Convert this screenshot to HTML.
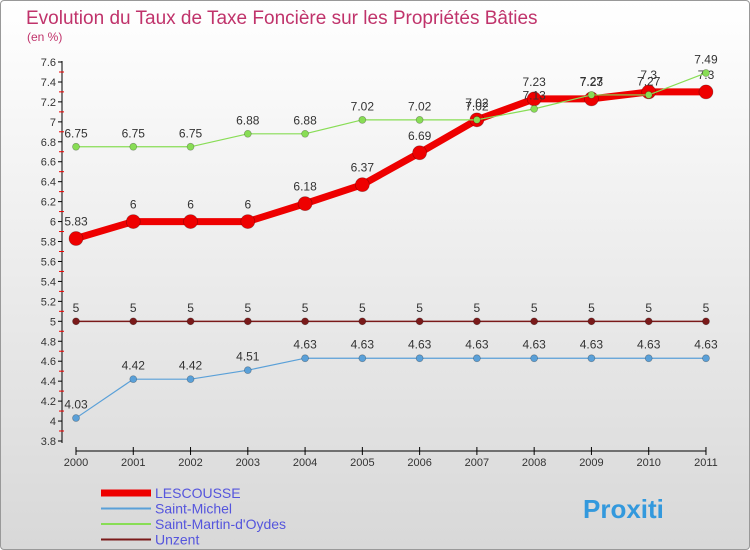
<!DOCTYPE html>
<html><head><meta charset="utf-8"><style>
body{margin:0}
#c{width:750px;height:550px;position:relative;font-family:"Liberation Sans",sans-serif;background:linear-gradient(#ffffff,#d8d8d8);border:1px solid #999;box-sizing:border-box;border-radius:4px;overflow:hidden}
text{font-family:"Liberation Sans",sans-serif}
</style></head><body>
<div id="c">
<svg id="s" width="750" height="550">
<text x="25" y="23" font-size="19" fill="#c0336b">Evolution du Taux de Taxe Foncière sur les Propriétés Bâties</text>
<text x="26" y="40" font-size="12" fill="#c0336b">(en %)</text>
</svg>
</div>
<script>
const years=["2000","2001","2002","2003","2004","2005","2006","2007","2008","2009","2010","2011"];
const lescousse=[5.83,6,6,6,6.18,6.37,6.69,7.02,7.23,7.23,7.3,7.3];
const saintMichel=[4.03,4.42,4.42,4.51,4.63,4.63,4.63,4.63,4.63,4.63,4.63,4.63];
const saintMartin=[6.75,6.75,6.75,6.88,6.88,7.02,7.02,7.02,7.13,7.27,7.27,7.49];
const unzent=[5,5,5,5,5,5,5,5,5,5,5,5];
const yTicks=["3.8","4","4.2","4.4","4.6","4.8","5","5.2","5.4","5.6","5.8","6","6.2","6.4","6.6","6.8","7","7.2","7.4","7.6"];
const NS="http://www.w3.org/2000/svg",s=document.getElementById('s');
const X=i=>75+i*57.27, Y=v=>440-(v-3.8)*(379/3.8);
function mk(t,a,p){const e=document.createElementNS(NS,t);for(const k in a)e.setAttribute(k,a[k]);(p||s).appendChild(e);return e;}
let ax=mk('line',{x1:61,y1:60,x2:61,y2:442,stroke:'#000'});


yTicks.forEach((t,k)=>{const v=+t,y=Y(v);
 mk('line',{x1:57,y1:y,x2:61,y2:y,stroke:'#000'});
 if(k<yTicks.length-1) mk('line',{x1:58,y1:y-10,x2:63,y2:y-10,stroke:'#e00'});
 const tx=mk('text',{x:55,y:y+4,'font-size':11,fill:'#333','text-anchor':'end'});tx.textContent=t;
 
 
});
let xa=mk('line',{x1:75,y1:450,x2:705,y2:450,stroke:'#000'});


years.forEach((y,i)=>{mk('line',{x1:X(i),y1:446,x2:X(i),y2:454,stroke:'#000'});
 const tx=mk('text',{x:X(i),y:465,'font-size':11,fill:'#333','text-anchor':'middle'});tx.textContent=y;
 
 
});
function series(d,col,w,r,name){
 const g=mk('g',{});
 
 
 mk('polyline',{points:d.map((v,i)=>X(i)+','+Y(v)).join(' '),fill:'none',stroke:col,'stroke-width':w},g);
 d.forEach((v,i)=>{const c=mk('circle',{cx:X(i),cy:Y(v),r:r,fill:col,stroke:'rgba(0,0,0,0.3)','stroke-width':0.7},g);
  
  
  const t=mk('text',{x:X(i),y:Y(v)-r-6,'font-size':12,fill:'#333','text-anchor':'middle'},g);t.textContent=String(v);
  
  });
}
series(unzent,'#7a1a1a',1.5,3.5,'unzent-line');
series(saintMichel,'#5aa0d8',1.2,3.5,'saint-michel-line');
series(lescousse,'#ee0000',7,7,'lescousse-line');
series(saintMartin,'#88dd55',1.2,3.5,'saint-martin-line');
const leg=[["LESCOUSSE","#ee0000",7],["Saint-Michel","#5aa0d8",2],["Saint-Martin-d'Oydes","#88dd55",2],["Unzent","#7a1a1a",2]];
leg.forEach((l,i)=>{const y=492+i*15.5;
 const g=mk('g',{});
 
 
 mk('line',{x1:100,y1:y,x2:150,y2:y,stroke:l[1],'stroke-width':l[2]},g);
 const t=mk('text',{x:154,y:y+5,'font-size':14,fill:'#5555dd'},g);t.textContent=l[0];});
const lg=mk('text',{x:582,y:517,'font-size':26,'font-weight':'bold',fill:'#3399dd'});lg.textContent="Proxiti";


</script>
</body></html>
